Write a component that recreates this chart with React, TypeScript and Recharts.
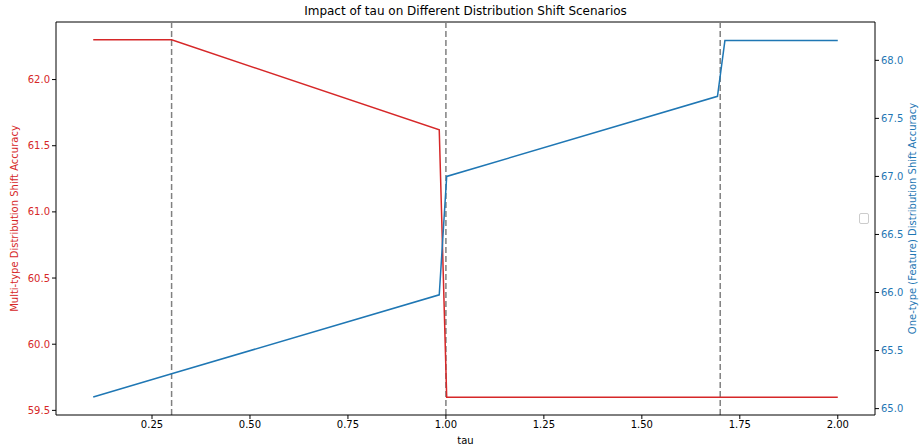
import React from 'react';
import {
  LineChart,
  Line,
  XAxis,
  YAxis,
  Label,
  ReferenceLine,
} from 'recharts';

// tau values where the curves change slope
const taus = [0.1, 0.3, 0.983, 1.002, 1.693, 1.712, 2.0];
const multiType = [62.3, 62.3, 61.62, 59.6, 59.6, 59.6, 59.6];
const oneType = [65.1, 65.3, 65.98, 67.0, 67.69, 68.17, 68.17];
const markers = [0.3, 1.0, 1.7];
const xTicks = [0.25, 0.5, 0.75, 1.0, 1.25, 1.5, 1.75, 2.0];
const leftTicks = [59.5, 60.0, 60.5, 61.0, 61.5, 62.0];
const rightTicks = [65.0, 65.5, 66.0, 66.5, 67.0, 67.5, 68.0];

const RED = '#d62728';
const BLUE = '#1f77b4';
const FONT = 'DejaVu Sans, sans-serif';

const data = taus.map((t, i) => ({ tau: t, multi: multiType[i], one: oneType[i] }));

const App: React.FC = () => {
  return (
    <div style={{ position: 'absolute', left: 0, top: 0, width: 921, height: 448, background: '#fff', fontFamily: FONT }}>
      <div style={{ position: 'absolute', top: 4, left: 56, width: 819, textAlign: 'center', fontSize: 12, color: '#000' }}>
        Impact of tau on Different Distribution Shift Scenarios
      </div>
      <LineChart
        width={921}
        height={448}
        data={data}
        margin={{ top: 22, right: 0, bottom: 0, left: 0 }}
      >
        <XAxis
          dataKey="tau"
          type="number"
          domain={[0.005, 2.095]}
          ticks={xTicks}
          tickFormatter={(v: number) => v.toFixed(2)}
          allowDataOverflow
          height={33}
          tickSize={4}
          stroke="#000"
          tick={{ fill: '#000', fontSize: 10, fontFamily: FONT }}
        >
          <Label value="tau" position="insideBottom" offset={4} style={{ fontSize: 10, fill: '#000', fontFamily: FONT }} />
        </XAxis>
        <YAxis
          yAxisId="left"
          domain={[59.465, 62.435]}
          ticks={leftTicks}
          allowDataOverflow
          tickFormatter={(v: number) => v.toFixed(1)}
          width={56}
          tickSize={4}
          stroke="#000"
          tick={{ fill: RED, fontSize: 10, fontFamily: FONT }}
        >
          <Label
            value="Multi-type Distribution Shift Accuracy"
            angle={-90}
            position="insideLeft"
            offset={14}
            style={{ textAnchor: 'middle', fontSize: 10, fill: RED, fontFamily: FONT }}
          />
        </YAxis>
        <YAxis
          yAxisId="right"
          orientation="right"
          domain={[64.945, 68.33]}
          ticks={rightTicks}
          allowDataOverflow
          tickFormatter={(v: number) => v.toFixed(1)}
          width={46}
          tickSize={4}
          stroke="#000"
          tick={{ fill: BLUE, fontSize: 10, fontFamily: FONT }}
        >
          <Label
            value="One-type (Feature) Distribution Shift Accuracy"
            angle={-90}
            position="insideRight"
            offset={9}
            style={{ textAnchor: 'middle', fontSize: 10, fill: BLUE, fontFamily: FONT }}
          />
        </YAxis>
        <ReferenceLine yAxisId="left" y={62.435} stroke="#000" strokeWidth={1} />
        {markers.map((m) => (
          <ReferenceLine key={m} yAxisId="left" x={m} stroke="#808080" strokeWidth={1.5} strokeDasharray="6 3" />
        ))}
        <Line yAxisId="left" dataKey="multi" type="linear" stroke={RED} strokeWidth={1.5} dot={false} isAnimationActive={false} />
        <Line yAxisId="right" dataKey="one" type="linear" stroke={BLUE} strokeWidth={1.5} dot={false} isAnimationActive={false} />
      </LineChart>
      <div style={{ position: 'absolute', left: 859, top: 213, width: 8, height: 9, border: '1px solid #ccc', borderRadius: 2, background: '#fff' }} />
    </div>
  );
};

export default App;
